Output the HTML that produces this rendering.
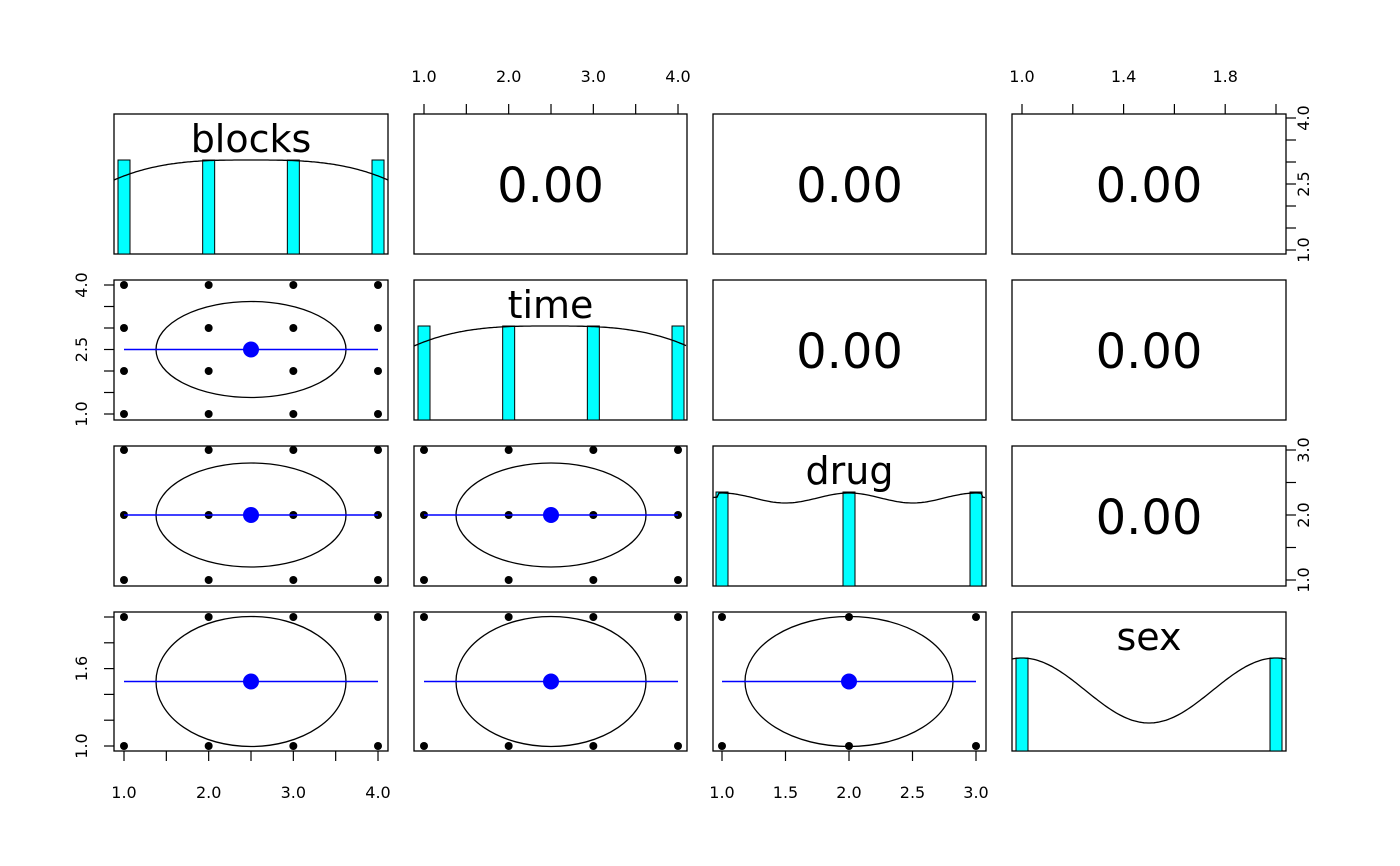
<!DOCTYPE html>
<html><head><meta charset="utf-8"><style>
html,body{margin:0;padding:0;background:#fff;}
svg{display:block;font-family:"DejaVu Sans","Liberation Sans",sans-serif;}
</style></head><body>
<svg id="s" width="1400" height="866" xmlns="http://www.w3.org/2000/svg"></svg>
<script>
const s=document.getElementById('s');let h='';
const cols=[[114,388],[414,687],[713,986],[1012,1286]];
const rows=[[114,254],[280,420],[446,586],[612,751]];
const xmap=[v=>124+(v-1)*84.67, v=>424+(v-1)*84.67, v=>722+(v-1)*127, v=>1022+(v-1)*254];
const ymap=[null, v=>414-(v-1)*43, v=>580-(v-1)*65, v=>746-(v-1)*129];
const vals=[[1,2,3,4],[1,2,3,4],[1,2,3],[1,2]];
const means=[2.5,2.5,2,1.5];
function box(c,r){h+=`<rect x="${cols[c][0]}" y="${rows[r][0]}" width="${cols[c][1]-cols[c][0]}" height="${rows[r][1]-rows[r][0]}" fill="none" stroke="#000" stroke-width="1.3"/>`;}
for(let r=0;r<4;r++)for(let c=0;c<4;c++){
 box(c,r);
 const cx=(cols[c][0]+cols[c][1])/2, cy=(rows[r][0]+rows[r][1])/2;
 if(c>r){h+=`<text x="${cx}" y="${cy+18}" font-size="48" text-anchor="middle">0.00</text>`;}
 else if(r>c){
  const X=xmap[c],Y=ymap[r];
  for(const a of vals[c])for(const b of vals[r])h+=`<circle cx="${X(a)}" cy="${Y(b)}" r="4" fill="#000"/>`;
  const ex=X(means[c]),ey=Y(means[r]);
  const rx=c==2?104:95;
  const ry=[0,48,52,65][r];
  h+=`<ellipse cx="${ex}" cy="${ey}" rx="${rx}" ry="${ry}" fill="none" stroke="#000" stroke-width="1.3"/>`;
  h+=`<line x1="${X(1)}" x2="${X(vals[c][vals[c].length-1])}" y1="${ey}" y2="${ey}" stroke="#00f" stroke-width="1.5"/>`;
  h+=`<circle cx="${ex}" cy="${ey}" r="8" fill="#00f"/>`;
 }
}
function bars(c,r,top){const X=xmap[c];for(const v of vals[c]){h+=`<rect x="${X(v)-6}" y="${top}" width="12" height="${rows[r][1]-top}" fill="#0ff" stroke="#000" stroke-width="1"/>`;}}
bars(0,0,160);bars(1,1,326);bars(2,2,492);bars(3,3,658);
function curve(c,r,f){let p='';const x0=cols[c][0],x1=cols[c][1];for(let x=x0;x<=x1;x+=2){p+=(x==x0?'M':'L')+x+','+f((x-x0)/(x1-x0)).toFixed(1);}h+=`<path d="${p}" fill="none" stroke="#000" stroke-width="1.3"/>`;}
curve(0,0,t=>160+20*Math.pow(Math.abs(2*t-1),3));
curve(1,1,t=>326+20*Math.pow(Math.abs(2*t-1),3));
curve(2,2,t=>{const u=(t*273+713-722)/127;return 498-5*Math.cos(2*Math.PI*u)+(Math.abs(2*t-1)>0.97?4:0)});
curve(3,3,t=>{const u=(t*274+1012-1022)/254;return 690.5-32.5*Math.cos(2*Math.PI*u)});
const lab=[["blocks",0],["time",1],["drug",2],["sex",3]];
for(const [n,i] of lab){const cx=(cols[i][0]+cols[i][1])/2;h+=`<text x="${cx}" y="${rows[i][0]+38}" font-size="38" text-anchor="middle">${n}</text>`;}
function tick(x1,y1,x2,y2){h+=`<line x1="${x1}" y1="${y1}" x2="${x2}" y2="${y2}" stroke="#000" stroke-width="1.2"/>`;}
function haxis(X,y,dir,ticks,labels,ly){ticks.forEach(v=>tick(X(v),y,X(v),y+dir*10));labels.forEach(([v,t])=>h+=`<text x="${X(v)}" y="${ly}" font-size="16" text-anchor="middle">${t}</text>`);}
function vaxis(Y,x,dir,ticks,labels,lx){ticks.forEach(v=>tick(x,Y(v),x+dir*10,Y(v)));labels.forEach(([v,t])=>h+=`<text transform="translate(${lx},${Y(v)}) rotate(-90)" font-size="16" text-anchor="middle">${t}</text>`);}
const hs=[1,1.5,2,2.5,3,3.5,4];
haxis(xmap[1],114,-1,hs,[[1,"1.0"],[2,"2.0"],[3,"3.0"],[4,"4.0"]],82);
haxis(xmap[3],114,-1,[1,1.2,1.4,1.6,1.8,2],[[1,"1.0"],[1.4,"1.4"],[1.8,"1.8"]],82);
haxis(xmap[0],751,1,hs,[[1,"1.0"],[2,"2.0"],[3,"3.0"],[4,"4.0"]],798);
haxis(xmap[2],751,1,[1,1.5,2,2.5,3],[[1,"1.0"],[1.5,"1.5"],[2,"2.0"],[2.5,"2.5"],[3,"3.0"]],798);
const y1=v=>250-(v-1)*44;
vaxis(y1,1286,1,hs,[[1,"1.0"],[2.5,"2.5"],[4,"4.0"]],1309);
vaxis(ymap[1],114,-1,hs,[[1,"1.0"],[2.5,"2.5"],[4,"4.0"]],87);
vaxis(ymap[2],1286,1,[1,1.5,2,2.5,3],[[1,"1.0"],[2,"2.0"],[3,"3.0"]],1309);
vaxis(ymap[3],114,-1,[1,1.2,1.4,1.6,1.8,2],[[1,"1.0"],[1.6,"1.6"]],87);
s.innerHTML=h;
</script>
</body></html>
